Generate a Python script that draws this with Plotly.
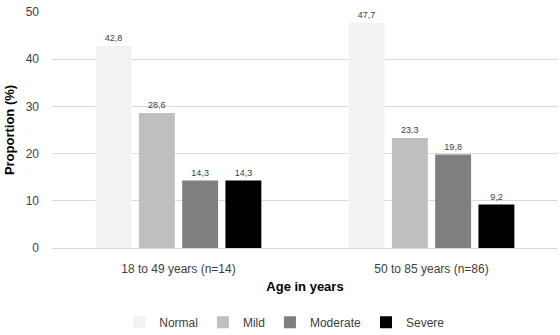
import plotly.graph_objects as go

categories = ["18 to 49 years (n=14)", "50 to 85 years (n=86)"]
series_names = ["Normal", "Mild", "Moderate", "Severe"]
normal = [42.8, 47.7]
mild = [28.6, 23.3]
moderate = [14.3, 19.8]
severe = [14.3, 9.2]
colors = ["#f2f2f2", "#bfbfbf", "#7f7f7f", "#000000"]
y_ticks = [0, 10, 20, 30, 40, 50]

fig = go.Figure()
for name, vals, col in zip(series_names, [normal, mild, moderate, severe], colors):
    fig.add_trace(go.Bar(
        x=categories, y=vals, name=name,
        marker=dict(color=col, line=dict(width=0)),
        text=[f"{v:.1f}".replace(".", ",") for v in vals],
        textposition="outside", textangle=0,
        textfont=dict(size=9, color="#404040", family="Liberation Sans, Arial"),
        cliponaxis=False,
    ))

fig.update_layout(
    width=560, height=335,
    margin=dict(l=52, r=2, t=12, b=87, autoexpand=False),
    barmode="group", bargap=0.316, bargroupgap=0.17,
    plot_bgcolor="white", paper_bgcolor="white",
    font=dict(family="Liberation Sans, Arial", color="#404040"),
    showlegend=True,
    legend=dict(orientation="h", x=0.46, xanchor="center", y=-0.315, yanchor="middle",
                font=dict(size=12, color="#404040"), itemwidth=30, traceorder="normal",
                tracegroupgap=0),
)
fig.update_yaxes(
    range=[0, 50], tickvals=y_ticks, showgrid=True, gridcolor="#d9d9d9",
    zeroline=False, tickfont=dict(size=12, color="#404040"),
    title=dict(text="<b>Proportion (%)</b>", font=dict(size=13, color="#000000"), standoff=8),
    ticks="", showline=False, ticklabelstandoff=12,
)
fig.update_xaxes(
    showline=True, linecolor="#d9d9d9", linewidth=1,
    tickfont=dict(size=12, color="#404040"),
    title=dict(text="<b>Age in years</b>", font=dict(size=13, color="#000000"), standoff=6),
    ticks="", ticklabelstandoff=10,
)
fig.write_html("out.html")
